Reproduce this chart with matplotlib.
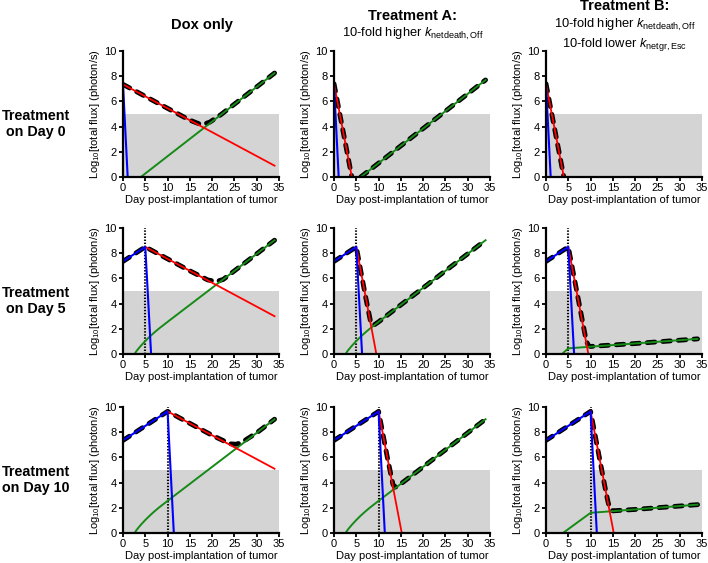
import numpy as np
import matplotlib
matplotlib.use("Agg")
import matplotlib.pyplot as plt

plt.rcParams['font.family'] = ['Liberation Sans', 'DejaVu Sans']
plt.rcParams['mathtext.fontset'] = 'custom'
plt.rcParams['mathtext.rm'] = 'Liberation Sans'
plt.rcParams['mathtext.it'] = 'Liberation Sans:italic'
plt.rcParams['mathtext.bf'] = 'Liberation Sans:bold'
plt.rcParams['lines.scale_dashes'] = False

nan = np.nan

# ---- data (day, log10 flux) ----
# row 1: treatment on day 0
blue_d0_x = [0, 1.05]
blue_d0_y = [7.35, 0]

red11_x = [0, 34]
red11_y = [7.35, 0.9]
green11_x = [4.0, 34]
green11_y = [0, 8.25]
total11_x = [0, 10, 15, 17, 18.2, 19.5, 22, 34]
total11_y = [7.35, 5.45, 4.51, 4.23, 4.2, 4.36, 4.96, 8.25]

red12_x = [0, 4.0]
red12_y = [7.4, 0]
green12_x = [6.0, 34]
green12_y = [0, 7.7]
total12_x = [0, 4.0, nan, 6.0, 34]
total12_y = [7.4, 0, nan, 0, 7.7]

red13_x = [0, 4.0]
red13_y = [7.4, 0]
total13_x = [0, 4.0]
total13_y = [7.4, 0]

# escape population, treatment on day 5 / 10 (Dox only and Treatment A)
green_esc_x = [2.6, 3, 3.5, 4, 5, 6, 7, 8, 10, 15, 20, 25, 30, 34]
green_esc_y = [0, 0.22, 0.44, 0.65, 1.03, 1.38, 1.7, 2.0, 2.55, 3.9, 5.25, 6.6, 7.95, 9.03]

# row 2: treatment on day 5
blue_d5_x = [0, 5, 6.3]
blue_d5_y = [7.35, 8.5, 0]

red21_x = [5, 34]
red21_y = [8.5, 3.0]
total21_x = [0, 5, 10, 15, 19, 20.9, 22.5, 25, 30, 34]
total21_y = [7.35, 8.5, 7.55, 6.6, 5.88, 5.75, 5.92, 6.6, 7.95, 9.03]

red22_x = [5, 9.5]
red22_y = [8.5, 0]
total22_x = [0, 5, 7, 8.2, 8.6, 9.2, 10, 15, 20, 25, 30, 34]
total22_y = [7.35, 8.5, 4.7, 2.57, 2.3, 2.35, 2.55, 3.9, 5.25, 6.6, 7.95, 9.03]

red23_x = [5, 9.5]
red23_y = [8.5, 0]
green23_x = [3.6, 5, 34]
green23_y = [0, 0.45, 1.2]
total23_x = [0, 5, 9, 9.5, 10, 20, 34]
total23_y = [7.35, 8.5, 1.09, 0.66, 0.6, 0.83, 1.2]

# row 3: treatment on day 10
blue_d10_x = [0, 10, 11.4]
blue_d10_y = [7.35, 9.65, 0]

red31_x = [10, 34]
red31_y = [9.65, 5.1]
total31_x = [0, 10, 15, 20, 24, 25.3, 26.5, 30, 34]
total31_y = [7.35, 9.65, 8.7, 7.75, 7.08, 7.04, 7.16, 7.95, 9.03]

red32_x = [10, 15.2]
red32_y = [9.65, 0]
total32_x = [0, 10, 12, 13.2, 13.6, 14.2, 15, 20, 25, 30, 34]
total32_y = [7.35, 9.65, 5.94, 3.89, 3.63, 3.69, 3.9, 5.25, 6.6, 7.95, 9.03]

red33_x = [10, 15.2]
red33_y = [9.65, 0]
green33_x = [3.8, 10, 34]
green33_y = [0, 1.6, 2.25]
total33_x = [0, 10, 13.5, 14, 14.5, 15, 20, 34]
total33_y = [7.35, 9.65, 3.15, 2.34, 1.88, 1.76, 1.87, 2.25]

treat_days = [0, 5, 10]
row_labels = ['Treatment\non Day 0', 'Treatment\non Day 5', 'Treatment\non Day 10']

panels = [
    [(blue_d0_x, blue_d0_y, red11_x, red11_y, green11_x, green11_y, total11_x, total11_y),
     (blue_d0_x, blue_d0_y, red12_x, red12_y, green12_x, green12_y, total12_x, total12_y),
     (blue_d0_x, blue_d0_y, red13_x, red13_y, None, None, total13_x, total13_y)],
    [(blue_d5_x, blue_d5_y, red21_x, red21_y, green_esc_x, green_esc_y, total21_x, total21_y),
     (blue_d5_x, blue_d5_y, red22_x, red22_y, green_esc_x, green_esc_y, total22_x, total22_y),
     (blue_d5_x, blue_d5_y, red23_x, red23_y, green23_x, green23_y, total23_x, total23_y)],
    [(blue_d10_x, blue_d10_y, red31_x, red31_y, green_esc_x, green_esc_y, total31_x, total31_y),
     (blue_d10_x, blue_d10_y, red32_x, red32_y, green_esc_x, green_esc_y, total32_x, total32_y),
     (blue_d10_x, blue_d10_y, red33_x, red33_y, green33_x, green33_y, total33_x, total33_y)],
]

W, H = 708, 563
fig = plt.figure(figsize=(W / 100, H / 100), dpi=100)

col_left = [123, 334, 546]
row_top = [51, 228, 407]
ax_w = 156
ax_h = 126

RED = '#ff0000'
BLUE = '#0000ff'
GREEN = '#168a16'

for r in range(3):
    for c in range(3):
        ax = fig.add_axes([col_left[c] / W, 1 - (row_top[r] + ax_h) / H, ax_w / W, ax_h / H])
        bx, by, rx, ry, gx, gy, tx, ty = panels[r][c]
        ax.axhspan(0, 5, color='#d4d4d4', lw=0, zorder=0)
        if treat_days[r] > 0:
            ax.axvline(treat_days[r], color='k', lw=1.5, ls=(0, (1, 1.2)), zorder=2.5)
        ax.plot(tx, ty, color='k', lw=3.5, ls=(0, (5.5, 5.7)),
                dash_capstyle='round', solid_capstyle='round', zorder=2)
        if gx is not None:
            ax.plot(gx, gy, color=GREEN, lw=1.4, zorder=3)
        ax.plot(rx, ry, color=RED, lw=1.3, zorder=3)
        ax.plot(bx, by, color=BLUE, lw=1.5, zorder=3.5)

        ax.set_xlim(0, 35)
        ax.set_ylim(0, 10)
        ax.set_xticks(range(0, 36, 5))
        ax.set_yticks(range(0, 11, 2))
        for s in ['top', 'right']:
            ax.spines[s].set_visible(False)
        for s in ['left', 'bottom']:
            ax.spines[s].set_linewidth(1.6)
            ax.spines[s].set_zorder(5)
        ax.tick_params(direction='out', length=3, width=1.3, labelsize=8, pad=1.5)
        ax.set_xlabel('Day post-implantation of tumor', fontsize=8, labelpad=1)
        ax.set_ylabel('Log$_{10}$[total flux] (photon/s)', fontsize=8, labelpad=2)

    fig.text(36 / W, 1 - (row_top[r] + 73) / H, row_labels[r], ha='center', va='center',
             fontsize=10.3, fontweight='bold', linespacing=1.25)

# column headers
fig.text(201.5 / W, 1 - 29 / H, 'Dox only', ha='center', va='baseline',
         fontsize=10.5, fontweight='bold')
fig.text(413 / W, 1 - 20.5 / H, 'Treatment A:', ha='center', va='baseline',
         fontsize=10.5, fontweight='bold')
fig.text(413 / W, 1 - 37 / H, '10-fold higher $\\mathit{k}_{\\mathrm{netdeath,Off}}$',
         ha='center', va='baseline', fontsize=9.3)
fig.text(625 / W, 1 - 10.5 / H, 'Treatment B:', ha='center', va='baseline',
         fontsize=10.5, fontweight='bold')
fig.text(625 / W, 1 - 28 / H, '10-fold higher $\\mathit{k}_{\\mathrm{netdeath,Off}}$',
         ha='center', va='baseline', fontsize=9.3)
fig.text(625 / W, 1 - 47 / H, '10-fold lower $\\mathit{k}_{\\mathrm{netgr,Esc}}$',
         ha='center', va='baseline', fontsize=9.3)

fig.savefig('out.png', dpi=100)
